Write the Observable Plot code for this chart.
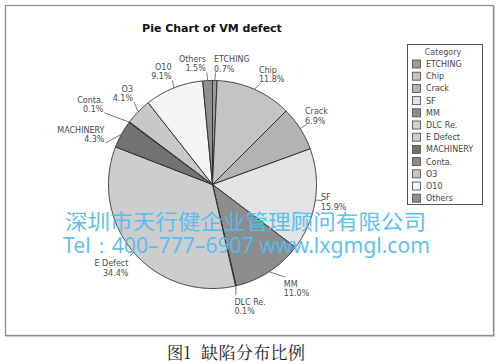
<!DOCTYPE html>
<html><head><meta charset="utf-8">
<script src="https://cdn.jsdelivr.net/npm/d3@7"></script>
<script src="https://cdn.jsdelivr.net/npm/@observablehq/plot@0.6"></script>
<style>
body{margin:0;background:#fff;}
#wrap{position:relative;width:499px;height:364px;overflow:hidden;background:#fff;}
#wrap svg{position:absolute;left:0;top:0;}
</style></head><body><div id="wrap"></div>
<script>
// ---- data ----
const categories = ["ETCHING","Chip","Crack","SF","MM","DLC Re.","E Defect","MACHINERY","Conta.","O3","O10","Others"];
const percents   = [0.7, 11.8, 6.9, 15.9, 11.0, 0.1, 34.4, 4.3, 0.1, 4.1, 9.1, 1.5];
const shades     = ["#9c9c9c","#c4c4c4","#b3b3b3","#e3e3e3","#8d8d8d","#d3d3d3","#cdcdcd","#727272","#8a8a8a","#c8c8c8","#f5f5f5","#8f8f8f"];
const chartTitle = "Pie Chart of VM defect";
const legendTitle = "Category";
const watermark1 = "深圳市天行健企业管理顾问有限公司";
const watermark2 = "Tel：400–777–6907 www.lxgmgl.com";
const captionA = "图1";
const captionB = "缺陷分布比例";

// ---- label layout (angle nudge in degrees, radial distance, placement) ----
const labelLayout = {
  "ETCHING":  {da: 0.3,  k: 1.077, style: "above"},
  "Chip":     {da: 1.6,  k: 1.075, style: "above"},
  "Crack":    {da: 0,    k: 1.072, style: "above"},
  "SF":       {da: -0.2, k: 1.069, style: "side"},
  "MM":       {da: -5.2, k: 1.133, style: "below"},
  "DLC Re.":  {da: 1.0,  k: 1.085, style: "below"},
  "E Defect": {da: 0,    k: 1.056, style: "below"},
  "MACHINERY":{da: -7.7, k: 1.104, style: "above"},
  "Conta.":   {da: -3.3, k: 1.247, style: "above"},
  "O3":       {da: 2.0,  k: 1.095, style: "above"},
  "O10":      {da: 0.8,  k: 1.073, style: "above"},
  "Others":   {da: -0.2, k: 1.079, style: "above"}
};

const W = 499, H = 340, cx = 212, cy = 184, R = 104;
const rad = Math.PI / 180;
const polar = (deg, k) => [k * Math.sin(deg * rad), k * Math.cos(deg * rad)];

const total = d3.sum(percents);
let cum = 0;
const slices = categories.map((c, i) => {
  const a0 = cum / total * 360; cum += percents[i]; const a1 = cum / total * 360;
  return {c, a0, a1, mid: (a0 + a1) / 2, pct: percents[i]};
});

const piePts = slices.flatMap(s => {
  const n = Math.max(2, Math.ceil((s.a1 - s.a0) / 0.5));
  const pts = [{c: s.c, x: 0, y: 0}];
  for (let j = 0; j <= n; j++) {
    const [x, y] = polar(s.a0 + (s.a1 - s.a0) * j / n, 1);
    pts.push({c: s.c, x, y});
  }
  pts.push({c: s.c, x: 0, y: 0});
  return pts;
});

const labels = slices.map(s => {
  const L = labelLayout[s.c];
  const [x1, y1] = polar(s.mid, 1);
  const [x2, y2] = polar(s.mid + L.da, L.k);
  return {c: s.c, x1, y1, x2, y2, style: L.style,
          anchor: x2 >= 0 ? "start" : "end",
          text: s.c + "\n" + s.pct.toFixed(1) + "%"};
});

const textOpts = {
  above: {lineAnchor: "bottom", dy: -1},
  side:  {lineAnchor: "top", dy: -7},
  below: {lineAnchor: "top", dy: 3.5}
};
const textMarks = [];
for (const st of ["above", "side", "below"]) {
  for (const an of ["start", "end"]) {
    const rows = labels.filter(d => d.style === st && d.anchor === an);
    if (!rows.length) continue;
    textMarks.push(Plot.text(rows, {
      x: "x2", y: "y2", text: "text", textAnchor: an,
      lineAnchor: textOpts[st].lineAnchor, dy: textOpts[st].dy,
      dx: an === "start" ? -1.5 : -1, lineHeight: 1.16,
      fontSize: 8, fill: "#4a4a4a", fontFamily: "DejaVu Sans"
    }));
  }
}

const chart = Plot.plot({
  width: W, height: H, margin: 0,
  style: {background: "transparent", fontFamily: "DejaVu Sans"},
  x: {domain: [-1, 1], range: [cx - R, cx + R], axis: null},
  y: {domain: [-1, 1], range: [cy + R, cy - R], axis: null},
  color: {type: "ordinal", domain: categories, range: shades},
  marks: [
    Plot.line(piePts, {x: "x", y: "y", z: "c", fill: "c", stroke: "#2e2e2e", strokeWidth: 0.95, strokeLinejoin: "round"}),
    Plot.link(labels, {x1: "x1", y1: "y1", x2: "x2", y2: "y2", stroke: "#555", strokeWidth: 0.8}),
    ...textMarks
  ]
});

const wrap = document.getElementById("wrap");
// frame behind chart
const back = d3.create("svg").attr("width", W).attr("height", 364);
back.append("rect").attr("x", 6.5).attr("y", 6.5).attr("width", 488).attr("height", 330)
  .attr("fill", "none").attr("stroke", "#d4d4d4").attr("stroke-width", 1.2);
back.append("rect").attr("x", 5.5).attr("y", 5.5).attr("width", 488).attr("height", 330)
  .attr("fill", "#fff").attr("stroke", "#8e8e8e").attr("stroke-width", 1.3);
wrap.appendChild(back.node());
wrap.appendChild(chart);

// overlay: title, legend, watermark, caption
const ov = d3.create("svg").attr("width", W).attr("height", 364);
ov.append("text").attr("x", 212).attr("y", 32).attr("text-anchor", "middle")
  .attr("font-family", "DejaVu Sans").attr("font-weight", "bold").attr("font-size", 11)
  .attr("fill", "#111").text(chartTitle);

const lg = ov.append("g").attr("font-family", "DejaVu Sans").attr("font-size", 8);
lg.append("rect").attr("x", 407.5).attr("y", 44.5).attr("width", 75).attr("height", 160)
  .attr("fill", "#fff").attr("stroke", "#555").attr("stroke-width", 1);
lg.append("text").attr("x", 443).attr("y", 55).attr("text-anchor", "middle").attr("fill", "#555").text(legendTitle);
categories.forEach((c, i) => {
  const yc = 64 + i * 12.2;
  lg.append("rect").attr("x", 412.5).attr("y", yc - 4).attr("width", 8).attr("height", 8)
    .attr("fill", shades[i]).attr("stroke", "#555").attr("stroke-width", 0.9);
  lg.append("text").attr("x", 426).attr("y", yc + 3).attr("fill", "#444").text(c);
});

ov.append("text").attr("x", 65).attr("y", 229).attr("font-family", "Noto Sans CJK SC")
  .attr("font-size", 21).attr("fill", "#52bdf0").attr("fill-opacity", 0.95)
  .attr("textLength", 361).attr("lengthAdjust", "spacingAndGlyphs").text(watermark1);
ov.append("text").attr("x", 63).attr("y", 253).attr("font-family", "Noto Sans")
  .attr("font-size", 21).attr("fill", "#52bdf0").attr("fill-opacity", 0.95)
  .attr("textLength", 367).attr("lengthAdjust", "spacingAndGlyphs").text(watermark2);

const capFont = "Noto Serif CJK SC, Noto Sans CJK SC";
ov.append("text").attr("x", 167).attr("y", 359).attr("font-family", capFont)
  .attr("font-size", 17).attr("fill", "#1a1a1a")
  .attr("textLength", 24).attr("lengthAdjust", "spacingAndGlyphs").text(captionA);
ov.append("text").attr("x", 201).attr("y", 359).attr("font-family", capFont)
  .attr("font-size", 17).attr("fill", "#1a1a1a")
  .attr("textLength", 104).attr("lengthAdjust", "spacing").text(captionB);
wrap.appendChild(ov.node());
</script></body></html>
